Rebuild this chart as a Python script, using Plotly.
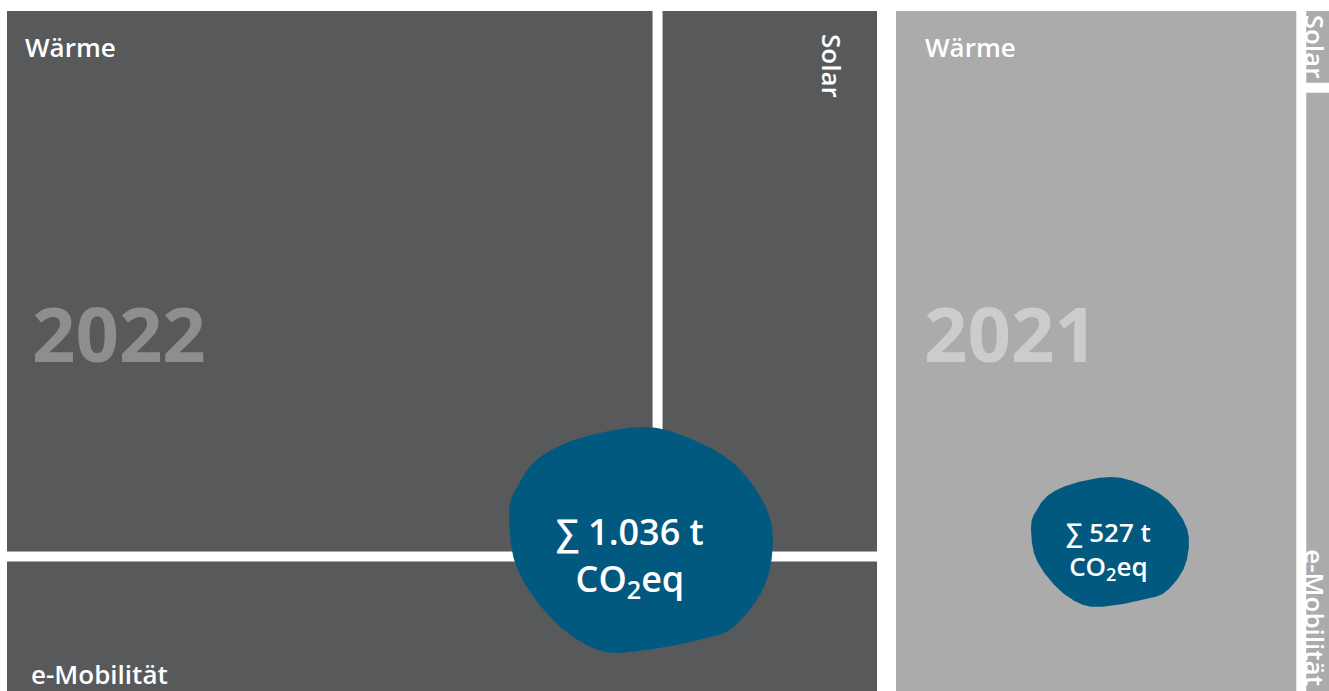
import numpy as np
import plotly.graph_objects as go

# ---------------- data ----------------
years = ["2022", "2021"]
categories = ["Wärme", "Solar", "e-Mobilität"]
values_2022 = [590, 202, 244]   # t CO2eq
values_2021 = [483, 5, 39]      # t CO2eq

# how tiles are grouped inside each year's block
groups_2022 = [["Wärme", "Solar"], ["e-Mobilität"]]   # stacked rows
groups_2021 = [["Wärme"], ["Solar", "e-Mobilität"]]   # side-by-side columns

# ---------------- layout / style constants ----------------
W_PX, H_PX = 1329, 691
BLOCK_H = 720.0
BLOCK_TOP = 6.0
AREA_PER_T = 880.0 * 720.0 / 1036.0
GAP = 10.0
block_left = {"2022": 2.0, "2021": 891.0}
orient = {"2022": "rows", "2021": "cols"}

tile_color = {"2022": "#58595b", "2021": "#ababab"}
year_color = {"2022": "#8d8e90", "2021": "#cccccc"}
blob_color = "#02597f"
FONT = "Open Sans"
LABEL_SIZE = 26

# blob placement (center, half-width, half-height), text size
blob_geo = {"2022": dict(cx=641, cy=540, rx=132, ry=113, tx=630, ty=556, fs=36),
            "2021": dict(cx=1110, cy=542, rx=79, ry=65, tx=1108, ty=550, fs=26)}
# normalised organic outline for the blobs
blob_u = [0.015, 0.35, 0.70, 0.93, 1.0, 0.93, 0.70, 0.45, 0.07, -0.27, -0.56, -0.81, -0.96, -1.0, -0.94, -0.77, -0.44]
blob_v = [-1.0, -0.91, -0.68, -0.33, 0.0, 0.42, 0.77, 0.88, 0.97, 0.99, 0.82, 0.51, 0.18, -0.24, -0.47, -0.73, -0.91]

year_text_dx = {"2022": 23, "2021": 26}
YEAR_TEXT_Y = 332

values = {"2022": dict(zip(categories, values_2022)),
          "2021": dict(zip(categories, values_2021))}
groups = {"2022": groups_2022, "2021": groups_2021}


def layout_block(vals, grp, mode, x0, y0, W, H):
    total = sum(vals.values())
    rects = {}
    if mode == "rows":
        y = y0
        for g in grp:
            gs = sum(vals[c] for c in g)
            gh = gs / total * H
            x = x0
            for c in g:
                w = vals[c] / gs * W
                rects[c] = (x, y, x + w, y + gh)
                x += w
            y += gh
    else:
        x = x0
        for g in grp:
            gs = sum(vals[c] for c in g)
            gw = gs / total * W
            y = y0
            for c in g:
                h = vals[c] / gs * H
                rects[c] = (x, y, x + gw, y + h)
                y += h
            x += gw
    return rects


def smooth_closed(px, py, n=24):
    P = np.column_stack([px, py]).astype(float)
    m = len(P)
    t = np.linspace(0, 1, n, endpoint=False)[:, None]
    out = []
    for i in range(m):
        p0, p1, p2, p3 = P[i - 1], P[i], P[(i + 1) % m], P[(i + 2) % m]
        out.append(0.5 * (2 * p1 + (p2 - p0) * t + (2 * p0 - 5 * p1 + 4 * p2 - p3) * t ** 2
                          + (-p0 + 3 * p1 - 3 * p2 + p3) * t ** 3))
    out = np.vstack(out)
    out = np.vstack([out, out[:1]])
    return out[:, 0], out[:, 1]


def fmt_de(n):
    return f"{n:,}".replace(",", ".")


fig = go.Figure()
annotations = []
label_font = dict(family=FONT, size=LABEL_SIZE, color="white", weight=600)


def label(x, y, text, xanchor, yanchor, angle):
    annotations.append(dict(x=x, y=y, xref="x", yref="y", text=text, showarrow=False,
                            xanchor=xanchor, yanchor=yanchor, textangle=angle, font=label_font))


for yr in years:
    vals = values[yr]
    total = sum(vals.values())
    W = total * AREA_PER_T / BLOCK_H
    rects = layout_block(vals, groups[yr], orient[yr], block_left[yr], BLOCK_TOP, W, BLOCK_H)
    vis = {}
    for c in categories:
        x0, y0, x1, y1 = rects[c]
        x0, y0, x1, y1 = x0 + GAP / 2, y0 + GAP / 2, x1 - GAP / 2, y1 - GAP / 2
        vis[c] = (x0, y0, x1, y1)
        fig.add_trace(go.Scatter(
            x=[x0, x1, x1, x0, x0], y=[y0, y0, y1, y1, y0],
            mode="lines", fill="toself", fillcolor=tile_color[yr],
            line=dict(width=0), hoveron="fills",
            text=f"{yr} – {c}: {vals[c]} t CO₂eq", hoverinfo="text", showlegend=False))

    # year watermark
    wx0, wy0, wx1, wy1 = vis["Wärme"]
    annotations.append(dict(x=wx0 + year_text_dx[yr], y=YEAR_TEXT_Y, xref="x", yref="y",
                            text=f"<b>{yr}</b>", showarrow=False, xanchor="left", yanchor="middle",
                            font=dict(family=FONT, size=76, color=year_color[yr], weight=700)))

    # category labels
    sx0, sy0, sx1, sy1 = vis["Solar"]
    ex0, ey0, ex1, ey1 = vis["e-Mobilität"]
    if yr == "2022":
        label(wx0 + 16, wy0 + 16, "Wärme", "left", "top", 0)
        label(sx1 - 45, sy0 + 21, "Solar", "center", "top", 90)
        label(ex0 + 22, ey1 - 67, "e-Mobilität", "left", "top", 0)
    else:
        label(wx0 + 27, wy0 + 16, "Wärme", "left", "top", 0)
        label(sx0 + 9, (sy0 + sy1) / 2, "Solar", "center", "middle", 90)
        label(ex0 + 9, ey1 - 33, "e-Mobilität", "center", "bottom", 90)

    # sum blob
    g = blob_geo[yr]
    bx, by = smooth_closed(g["cx"] + np.array(blob_u) * g["rx"], g["cy"] + np.array(blob_v) * g["ry"])
    fig.add_trace(go.Scatter(x=bx, y=by, mode="lines", fill="toself", fillcolor=blob_color,
                             line=dict(width=0, color=blob_color), hoverinfo="text",
                             text=f"{yr}: Σ {fmt_de(total)} t CO₂eq", hoveron="fills", showlegend=False))
    annotations.append(dict(x=g["tx"], y=g["ty"], xref="x", yref="y", showarrow=False,
                            text=f"∑ {fmt_de(total)} t<br>CO<sub>2</sub>eq",
                            xanchor="center", yanchor="middle", align="center",
                            font=dict(family=FONT, size=g["fs"], color="white", weight=600)))

fig.update_layout(
    width=W_PX, height=H_PX, margin=dict(l=0, r=0, t=0, b=0),
    paper_bgcolor="white", plot_bgcolor="white", showlegend=False,
    xaxis=dict(range=[0, W_PX], visible=False, fixedrange=True),
    yaxis=dict(range=[H_PX, 0], visible=False, fixedrange=True),
    annotations=annotations,
)
fig.write_html("out.html")
